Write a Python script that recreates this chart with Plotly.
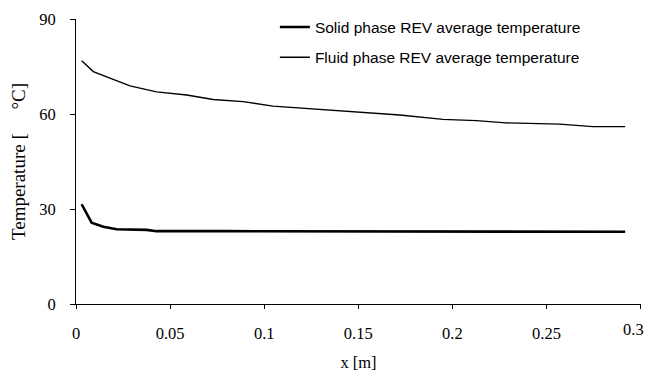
import plotly.graph_objects as go

x_fluid = [0.003, 0.0092, 0.018, 0.0287, 0.0428, 0.0588, 0.0729, 0.0888, 0.1047, 0.1225,
           0.14, 0.155, 0.172, 0.195, 0.2127, 0.2286, 0.257, 0.2746, 0.2918]
t_fluid = [76.8, 73.4, 71.3, 68.9, 67.0, 66.0, 64.6, 63.9, 62.5, 61.8,
           60.9, 60.3, 59.7, 58.3, 57.9, 57.2, 56.8, 56.0, 56.0]

x_solid = [0.003, 0.0083, 0.0145, 0.0216, 0.0375, 0.0428, 0.08, 0.12, 0.16, 0.2, 0.24, 0.2918]
t_solid = [31.5, 25.7, 24.4, 23.6, 23.4, 23.0, 23.0, 23.0, 22.9, 22.9, 22.8, 22.8]

x_ticks = [0, 0.05, 0.1, 0.15, 0.2, 0.25, 0.3]
x_tick_text = ["0", "0.05", "0.1", "0.15", "0.2", "0.25", "0.3"]
y_ticks = [0, 30, 60, 90]

fig = go.Figure()
fig.add_trace(go.Scatter(x=x_solid, y=t_solid, mode="lines",
                         name="Solid phase REV average temperature",
                         legendgroup="a",
                         line=dict(color="black", width=2.6)))
fig.add_trace(go.Scatter(x=x_fluid, y=t_fluid, mode="lines",
                         name="Fluid phase REV average temperature",
                         legendgroup="b",
                         line=dict(color="black", width=1.4)))

serif = "Liberation Serif, Times New Roman, serif"
nb = "\u00a0"
tickfont = dict(family=serif, size=16.5, color="black")

# last tick label is shifted inward (as in the reference) so it stays inside the page
axis_tick_text = x_tick_text[:-1] + [""]
fig.add_annotation(x=x_ticks[-1], xref="x", y=0, yref="paper",
                   text=x_tick_text[-1], showarrow=False,
                   xanchor="right", yanchor="middle", xshift=5, yshift=-25,
                   font=tickfont)

fig.update_layout(
    width=649, height=381,
    margin=dict(l=76, r=8, t=19, b=77),
    paper_bgcolor="white", plot_bgcolor="white",
    showlegend=True,
    legend=dict(x=0.352, y=1.03, xanchor="left", yanchor="top",
                font=dict(family="Liberation Sans, Arial, sans-serif", size=15.5, color="black"),
                bgcolor="rgba(0,0,0,0)", traceorder="grouped", tracegroupgap=7),
    xaxis=dict(range=[0, 0.3002], tickvals=x_ticks, ticktext=axis_tick_text,
               showgrid=False, zeroline=False, showline=True, linecolor="black", linewidth=1,
               ticks="outside", ticklen=4, tickcolor="black",
               tickfont=tickfont,
               ticklabelstandoff=10, automargin=False,
               title=dict(text="x [m]", font=dict(family=serif, size=16.5, color="black"), standoff=14)),
    yaxis=dict(range=[0, 90], tickvals=y_ticks,
               showgrid=False, zeroline=False, showline=True, linecolor="black", linewidth=1,
               ticks="outside", ticklen=5, tickcolor="black",
               tickfont=tickfont,
               ticklabelstandoff=11, automargin=False,
               title=dict(text="Temperature [" + nb * 5 + "°C]" + nb * 4,
                          font=dict(family=serif, size=19, color="black"), standoff=8)),
)

fig.write_html("out.html")
